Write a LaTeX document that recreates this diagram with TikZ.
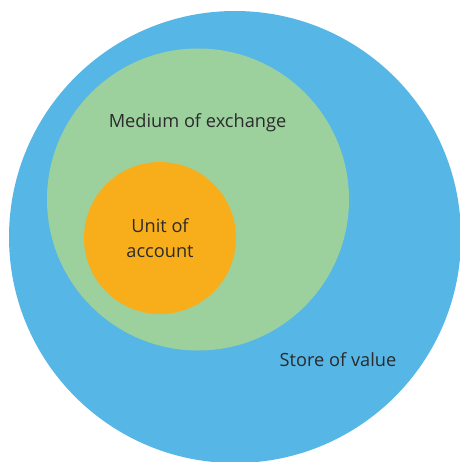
\documentclass[tikz,border=0pt]{standalone}
\usepackage{fontspec}
\setmainfont{Open Sans}
\usepackage{tikz}
\usetikzlibrary{positioning}

\definecolor{storeblue}{HTML}{56B6E5}
\definecolor{mediumgreen}{HTML}{9CD19E}
\definecolor{unitorange}{HTML}{F8AE1B}
\definecolor{labelgrey}{HTML}{2B2B2B}

\begin{document}
\begin{tikzpicture}[x=1pt, y=-1pt, every node/.style={inner sep=0pt, outer sep=0pt},
    ring/.style={circle, draw=none},
    lbl/.style={text=labelgrey, font=\fontsize{18.2}{25}\selectfont, align=center}]

            \useasboundingbox (0,0) rectangle (459,462);

            % Draw the three nested circles
            \node[ring, fill=storeblue, minimum size=452pt] (store) at (235,237) {};
            \node[ring, fill=mediumgreen, minimum size=302pt] (medium) at (198,199.5) {};
            \node[ring, fill=unitorange, minimum size=152pt] (unit) at (160,238) {};

            % Draw the labels
            \node[lbl] (unitlbl) at (160,238.5) {Unit of\\account};
            \node[lbl, anchor=base] (mediumlbl) at (197.5,128) {Medium of exchange};
            \node[lbl, anchor=base] (storelbl) at (338,366) {Store of value};

        \end{tikzpicture}
\end{document}
